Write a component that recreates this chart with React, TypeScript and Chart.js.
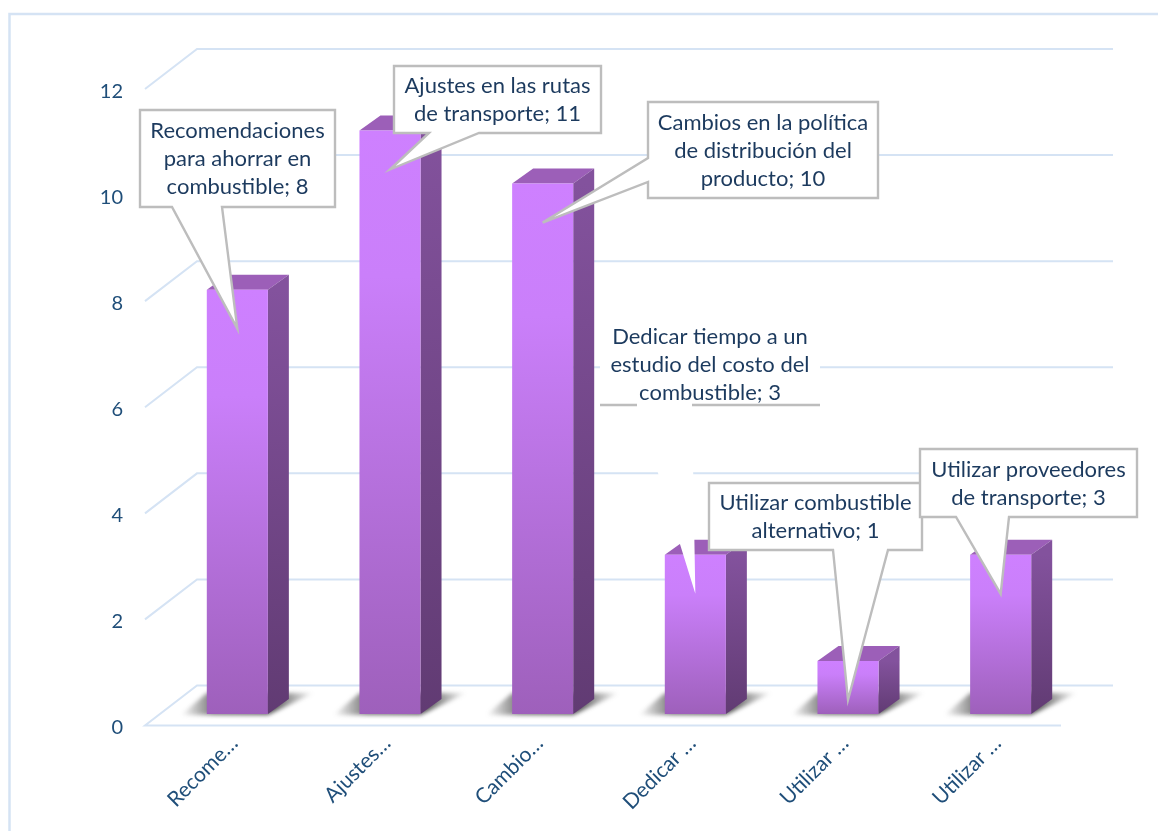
import React, { useEffect, useRef } from "react";
import { Chart, registerables } from "chart.js";

Chart.register(...registerables);

const categories = [
  "Recomendaciones para ahorrar en combustible",
  "Ajustes en las rutas de transporte",
  "Cambios en la política de distribución del producto",
  "Dedicar tiempo a un estudio del costo del combustible",
  "Utilizar combustible alternativo",
  "Utilizar proveedores de transporte",
];
const shortLabels = ["Recome…", "Ajustes…", "Cambio…", "Dedicar …", "Utilizar …", "Utilizar …"];
const values = [8, 11, 10, 3, 1, 3];
const yMax = 12;
const yStep = 2;

// Callout layout (box rectangle and where the tail leaves it)
const callouts = [
  { x0: 140, y0: 110, x1: 335, y1: 207, wrap: 185, side: "bottom", a: 172, b: 222 },
  { x0: 394, y0: 66, x1: 601, y1: 133, wrap: 195, side: "bottom", a: 429, b: 479 },
  { x0: 648, y0: 102, x1: 878, y1: 198, wrap: 220, side: "left", a: 158, b: 182 },
  { x0: 600, y0: 318, x1: 820, y1: 405, wrap: 210, side: "bottom", a: 637, b: 692, bare: true },
  { x0: 709, y0: 483, x1: 922, y1: 550, wrap: 206, side: "bottom", a: 833, b: 888 },
  { x0: 920, y0: 449, x1: 1137, y1: 517, wrap: 206, side: "bottom", a: 956, b: 1009 },
];

const FONT = "Lato, Carlito, sans-serif";
const GRID = "#d5e3f4";
const CALLOUT_LINE = "#bdbdbd";
const TEXT = "#1c3a5e";
const AXIS_TEXT = "#1f4e79";

const WALL_X = 52;
const WALL_Y = 40;
const DEPTH_X = 21;
const DEPTH_Y = 15;
const FRONT_SHIFT = 16;
const LABEL_SHIFT = 2.5;
const BAR_SHIFT = 14;
const TIP_DROP = 39;

function wrapText(ctx: CanvasRenderingContext2D, text: string, width: number) {
  const lines: string[] = [];
  let cur = "";
  for (const w of text.split(" ")) {
    const t = cur ? cur + " " + w : w;
    if (ctx.measureText(t).width > width && cur) {
      lines.push(cur);
      cur = w;
    } else cur = t;
  }
  if (cur) lines.push(cur);
  return lines;
}

function line(ctx: CanvasRenderingContext2D, pts: number[][]) {
  ctx.beginPath();
  pts.forEach((p, i) => (i ? ctx.lineTo(p[0], p[1]) : ctx.moveTo(p[0], p[1])));
  ctx.stroke();
}

function poly(ctx: CanvasRenderingContext2D, pts: number[][]) {
  ctx.beginPath();
  pts.forEach((p, i) => (i ? ctx.lineTo(p[0], p[1]) : ctx.moveTo(p[0], p[1])));
  ctx.closePath();
}

const wallPlugin = {
  id: "wall",
  beforeDraw(chart: any) {
    const { ctx, chartArea, scales } = chart;
    ctx.save();
    // outer frame: top and left only
    ctx.strokeStyle = GRID;
    ctx.lineWidth = 2.5;
    line(ctx, [[9.5, 831], [9.5, 14], [1158, 14]]);
    // wall grid lines
    ctx.lineWidth = 2;
    const left = chartArea.left - FRONT_SHIFT;
    const right = chartArea.right - FRONT_SHIFT;
    scales.y.ticks.forEach((t: any) => {
      const y = scales.y.getPixelForValue(t.value) - LABEL_SHIFT;
      const pts = [[left, y], [left + WALL_X, y - WALL_Y], [right + WALL_X, y - WALL_Y]];
      if (t.value === 0) pts.unshift([right, y]);
      line(ctx, pts);
    });
    ctx.restore();
  },
};

const solidPlugin = {
  id: "solid",
  beforeDatasetsDraw(chart: any) {
    const { ctx } = chart;
    const scale = chart.scales.y1;
    const base = scale.getPixelForValue(0);
    chart.getDatasetMeta(0).data.forEach((bar: any) => {
      const L = bar.x - bar.width / 2;
      const R = bar.x + bar.width / 2;
      const T = bar.y;
      ctx.save();
      // floor shadow
      const sh = ctx.createLinearGradient(L - 26, 0, R + 46, 0);
      sh.addColorStop(0, "rgba(70,70,70,0)");
      sh.addColorStop(0.25, "rgba(70,70,70,0.75)");
      sh.addColorStop(0.7, "rgba(60,60,60,0.85)");
      sh.addColorStop(1, "rgba(70,70,70,0)");
      ctx.filter = "blur(2px)";
      ctx.fillStyle = sh;
      poly(ctx, [[L - 26, base + 1], [R, base + 1], [R + 46, base - 21], [L, base - 21]]);
      ctx.fill();
      ctx.filter = "none";
      // top face
      ctx.fillStyle = "#9c5fb8";
      poly(ctx, [[L, T], [L + DEPTH_X, T - DEPTH_Y], [R + DEPTH_X, T - DEPTH_Y], [R, T]]);
      ctx.fill();
      // side face
      const g = ctx.createLinearGradient(0, T, 0, base);
      g.addColorStop(0, "#83529d");
      g.addColorStop(1, "#613b73");
      ctx.fillStyle = g;
      poly(ctx, [[R, T], [R + DEPTH_X, T - DEPTH_Y], [R + DEPTH_X, base - DEPTH_Y], [R, base]]);
      ctx.fill();
      ctx.restore();
    });
  },
};

const calloutPlugin = {
  id: "callouts",
  afterDraw(chart: any) {
    const { ctx } = chart;
    const bars = chart.getDatasetMeta(0).data;
    ctx.save();
    callouts.forEach((c: any, i: number) => {
      const tip = [bars[i].x, bars[i].y + TIP_DROP];
      const pts: number[][] = [[c.x0, c.y0], [c.x1, c.y0], [c.x1, c.y1]];
      if (c.side === "bottom") pts.push([c.b, c.y1], tip, [c.a, c.y1], [c.x0, c.y1]);
      else pts.push([c.x0, c.y1], [c.x0, c.b], tip, [c.x0, c.a]);
      ctx.lineJoin = "miter";
      ctx.fillStyle = "#ffffff";
      poly(ctx, pts);
      ctx.fill();
      ctx.strokeStyle = CALLOUT_LINE;
      ctx.lineWidth = 2.4;
      if (c.bare) {
        line(ctx, [[c.x0, c.y1], [c.a, c.y1]]);
        line(ctx, [[c.b, c.y1], [c.x1, c.y1]]);
      } else {
        poly(ctx, pts);
        ctx.stroke();
      }
      ctx.font = `22px ${FONT}`;
      ctx.fillStyle = TEXT;
      ctx.textAlign = "center";
      ctx.textBaseline = "middle";
      const lines = wrapText(ctx, `${categories[i]}; ${values[i]}`, c.wrap);
      const lh = 28;
      const cx = (c.x0 + c.x1) / 2;
      const cy = (c.y0 + c.y1) / 2 + (c.bare ? 3 : 0.5);
      lines.forEach((l, k) => ctx.fillText(l, cx, cy + (k - (lines.length - 1) / 2) * lh));
    });
    ctx.restore();
  },
};

export default function App() {
  const ref = useRef<HTMLCanvasElement>(null);
  useEffect(() => {
    document.body.style.margin = "0";
    document.body.style.background = "#ffffff";
    const chart = new Chart(ref.current as HTMLCanvasElement, {
      type: "bar",
      data: {
        labels: categories,
        datasets: [
          {
            data: values,
            yAxisID: "y1",
            clip: false,
            barPercentage: 0.4,
            categoryPercentage: 1,
            backgroundColor: (c: any) => {
              const s = c.chart.scales.y1;
              const top = s.getPixelForValue(c.raw);
              const bottom = s.getPixelForValue(0);
              if (!isFinite(top) || !isFinite(bottom) || top === bottom) return "#b870e0";
              const g = c.chart.ctx.createLinearGradient(0, top, 0, bottom);
              g.addColorStop(0, "#ce80ff");
              g.addColorStop(0.25, "#ca7ffa");
              g.addColorStop(1, "#9e60bb");
              return g;
            },
          } as any,
        ],
      },
      options: {
        responsive: false,
        animation: false,
        layout: { padding: { top: 91.5, right: 81, left: 0, bottom: 0 } },
        plugins: { legend: { display: false }, tooltip: { enabled: false } },
        scales: {
          x: {
            grid: { display: false },
            border: { display: false },
            afterFit: (s: any) => {
              s.height = 103;
            },
            ticks: {
              minRotation: 45,
              maxRotation: 45,
              autoSkip: false,
              padding: -5,
              labelOffset: -3,
              color: AXIS_TEXT,
              font: { family: FONT, size: 21 },
              callback: (_v: any, i: number) => shortLabels[i],
            },
          },
          y: {
            min: 0,
            max: yMax,
            grid: { display: false, drawTicks: false },
            border: { display: false },
            afterFit: (s: any) => {
              s.width = 161;
            },
            ticks: {
              stepSize: yStep,
              padding: 38,
              color: AXIS_TEXT,
              font: { family: FONT, size: 20 },
            },
          },
          y1: {
            display: false,
            min: -BAR_SHIFT / 53,
            max: yMax - BAR_SHIFT / 53,
          },
        },
      },
      plugins: [wallPlugin, solidPlugin, calloutPlugin],
    } as any);
    return () => chart.destroy();
  }, []);
  return <canvas ref={ref} width={1158} height={831} style={{ display: "block" }} />;
}
